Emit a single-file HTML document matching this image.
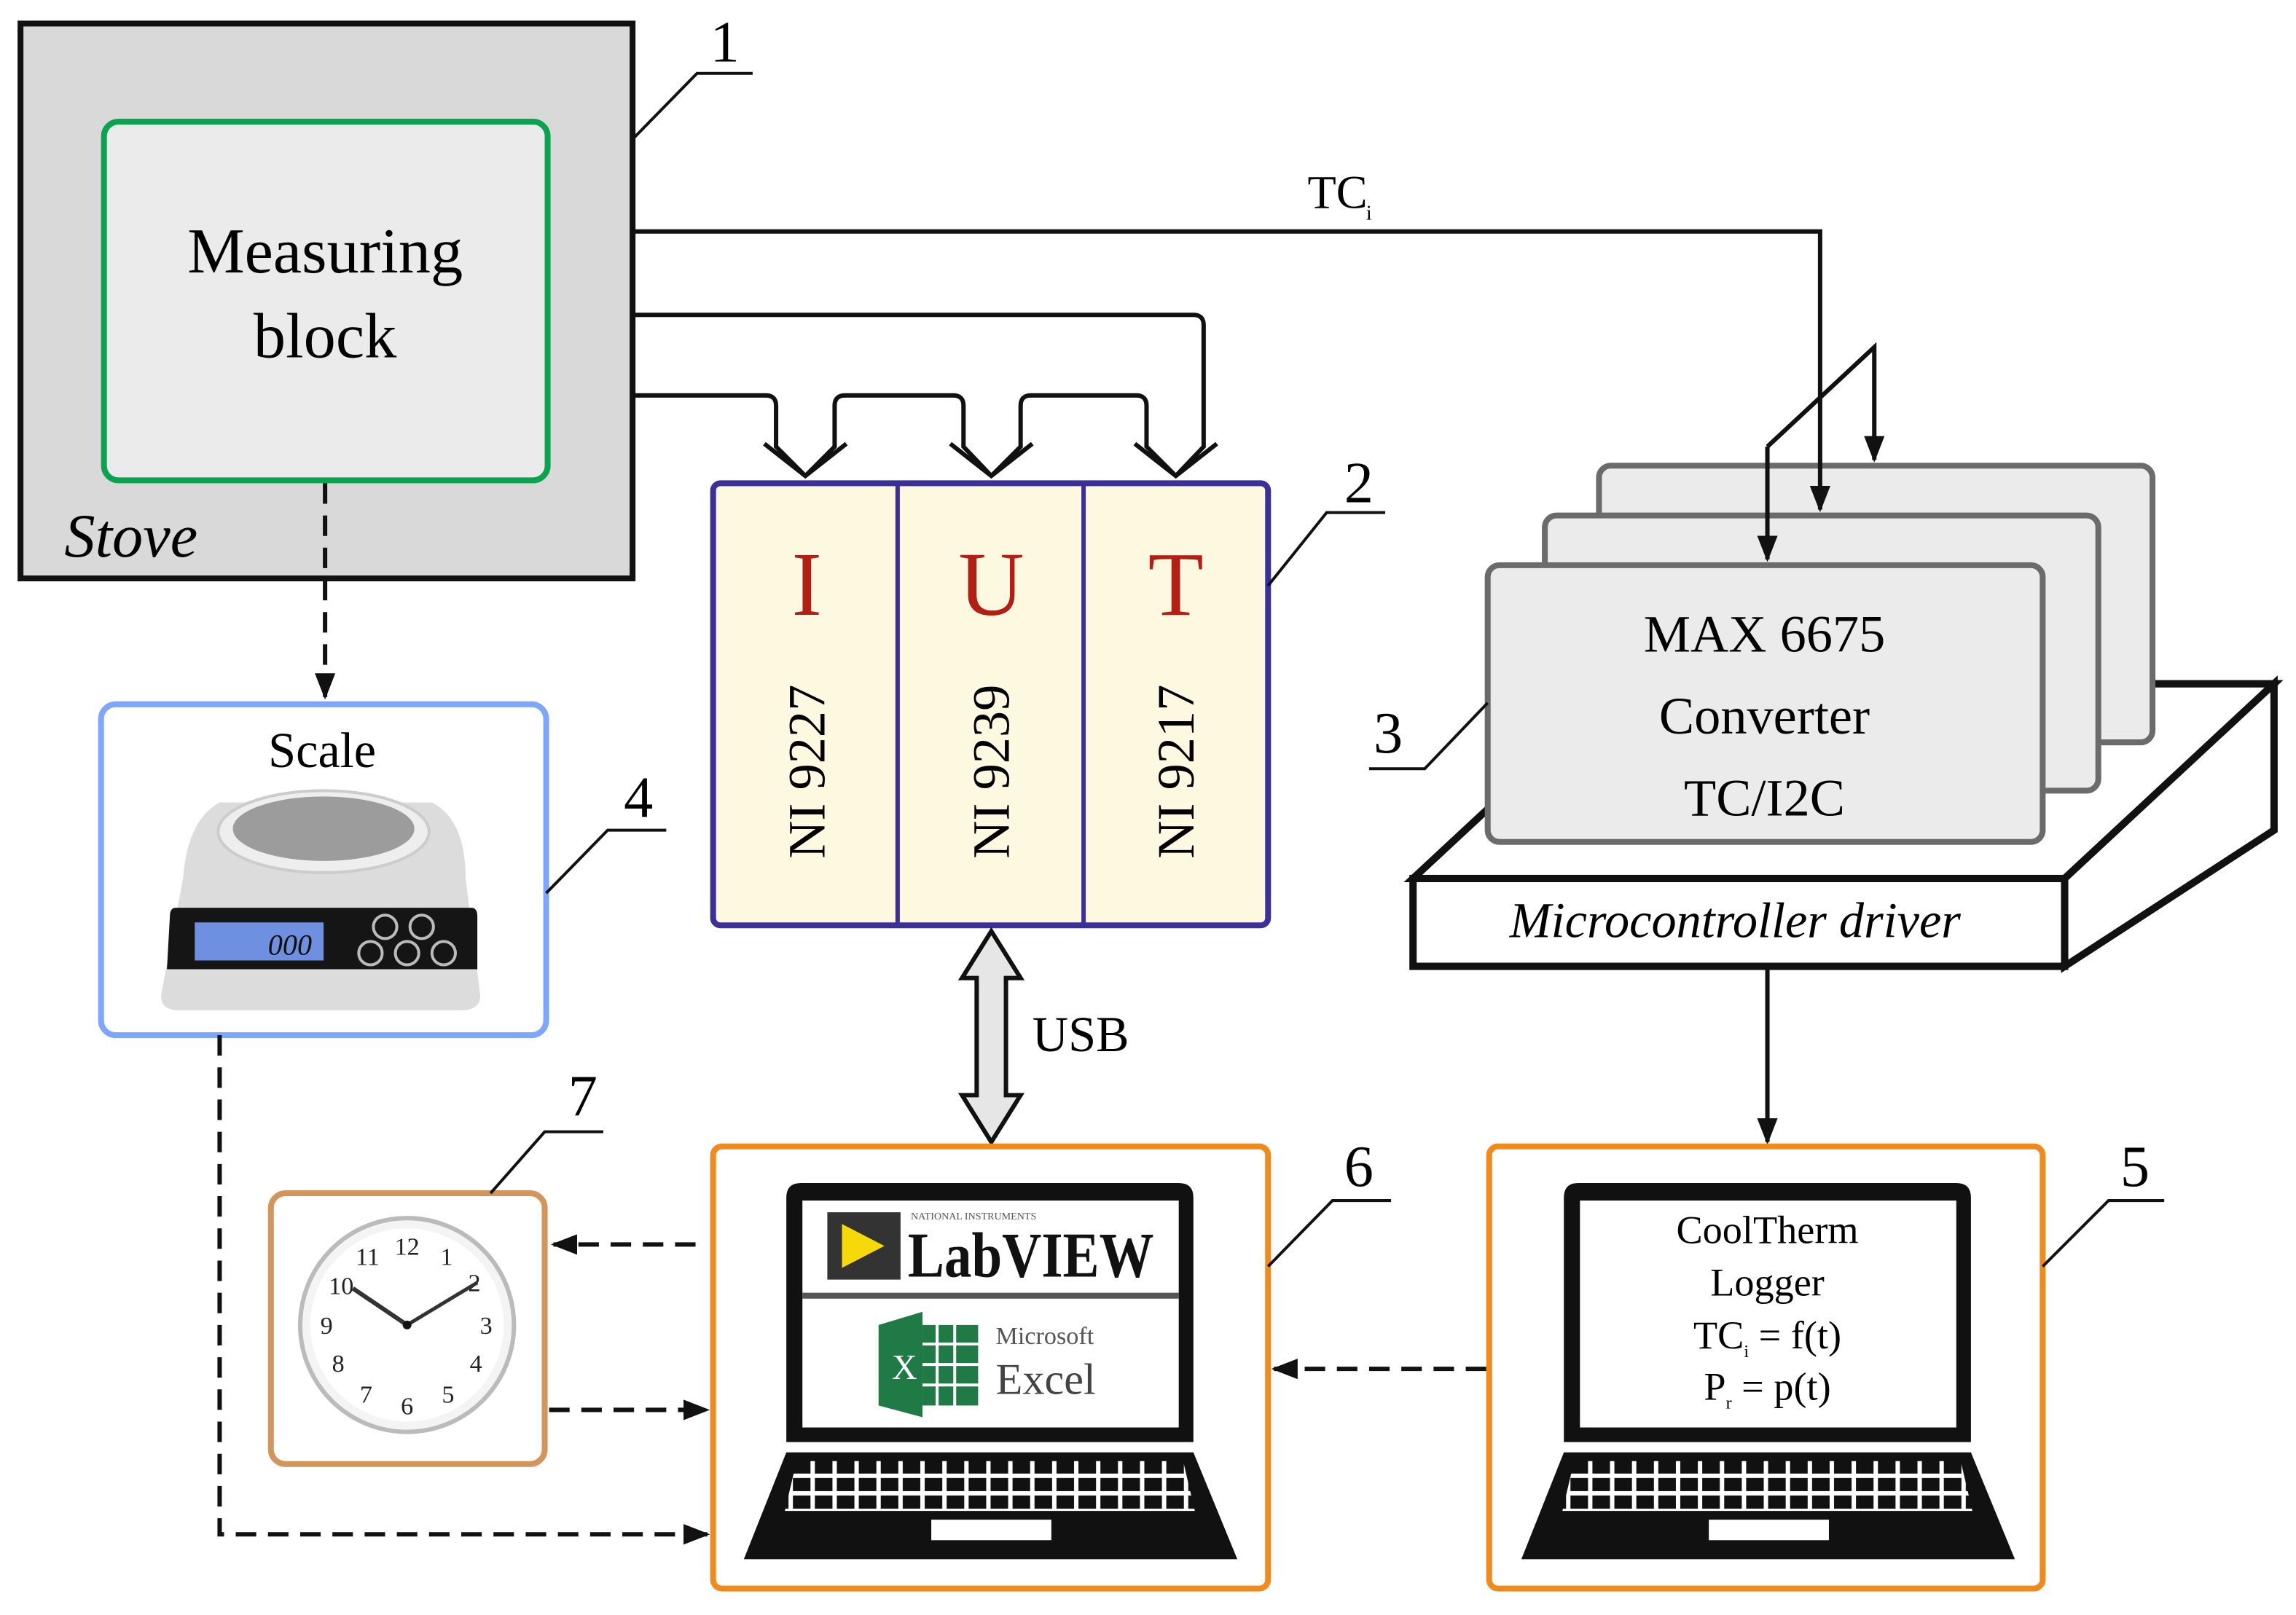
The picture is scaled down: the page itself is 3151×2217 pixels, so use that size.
<!DOCTYPE html>
<html><head><meta charset="utf-8"><style>
html,body{margin:0;padding:0;background:#fff}
svg{display:block}
text{font-family:"Liberation Serif",serif}
</style></head><body>
<svg width="3151" height="2217" viewBox="0 0 1568 1103" xmlns="http://www.w3.org/2000/svg">
<defs>
<marker id="ah" viewBox="0 0 10 10" refX="9" refY="5" markerWidth="18" markerHeight="14" orient="auto-start-reverse" markerUnits="userSpaceOnUse" preserveAspectRatio="none">
<path d="M0,0 L10,5 L0,10 z" fill="#111"/></marker>
<pattern id="keys" x="0" y="0" width="15" height="12" patternUnits="userSpaceOnUse">
<rect width="15" height="12" fill="#fff"/><rect x="1.5" y="1.5" width="12" height="9" fill="#111"/></pattern>
<g id="laptop">
<path d="M537,985 V818 Q537,808 547,808 H805 Q815,808 815,818 V985 Z" fill="#111"/>
<rect x="548" y="820" width="257" height="155" fill="#fff"/>
<path d="M537,992 H815 L845,1065 H508 Z" fill="#111"/>
<path d="M544,998 H808 L816,1032 H536 Z" fill="url(#keys)"/>
<rect x="636" y="1038" width="82" height="14" fill="#fff"/>
</g>
</defs>

<!-- Stove -->
<rect x="14" y="16" width="418" height="379" fill="#d8d9d8" stroke="#111" stroke-width="4"/>
<rect x="71" y="83" width="303" height="245" rx="10" fill="#ebebeb" stroke="#0aa350" stroke-width="4"/>
<text x="222" y="186" font-size="44" text-anchor="middle">Measuring</text>
<text x="222" y="244" font-size="44" text-anchor="middle">block</text>
<text x="44" y="380" font-size="42" font-style="italic">Stove</text>
<polyline points="432,95 476,50 514,50" fill="none" stroke="#111" stroke-width="2"/>
<text x="485" y="42" font-size="40">1</text>

<!-- Platform -->
<polygon points="965,600 1108,467 1553,467 1410,600" fill="#fff" stroke="#111" stroke-width="5" stroke-linejoin="miter"/>
<polygon points="1410,600 1553,467 1553,567 1410,660" fill="#fff" stroke="#111" stroke-width="5"/>
<rect x="965" y="600" width="445" height="60" fill="#fff" stroke="#111" stroke-width="5"/>
<text x="1185" y="640" font-size="34" font-style="italic" text-anchor="middle">Microcontroller driver</text>

<!-- MAX boxes -->
<g fill="#ebebeb" stroke="#6b6b6b" stroke-width="4">
<rect x="1092" y="318" width="378" height="189" rx="8"/>
<rect x="1055" y="352" width="378" height="188" rx="8"/>
<rect x="1016" y="386" width="379" height="189" rx="8"/></g>
<g font-size="36" text-anchor="middle">
<text x="1205" y="445">MAX 6675</text><text x="1205" y="501">Converter</text><text x="1205" y="557">TC/I2C</text></g>

<!-- lines to NI -->
<g fill="none" stroke="#111" stroke-width="3">
<path d="M432,158 H1243 V348" marker-end="url(#ah)"/>
<path d="M432,270 H523 Q530,270 530,277 V305 L550,325"/>
<path d="M550,325 L570,305 V277 Q570,270 577,270 H651 Q658,270 658,277 V305 L677,325"/>
<path d="M677,325 L697,305 V277 Q697,270 704,270 H776 Q783,270 783,277 V305 L803,325"/>
<path d="M432,215 H815 Q822,215 822,222 V305 L803,325"/>
<path d="M522,303 L550,325 L578,303 M649,303 L677,325 L705,303 M775,303 L803,325 L831,303"/>
<path d="M1207,305 L1280,237 V314" marker-end="url(#ah)"/>
<path d="M1207,305 V382" marker-end="url(#ah)"/>
<path d="M1207,660 V780" marker-end="url(#ah)"/>
</g>
<text x="893" y="142" font-size="32">TC</text><text x="933" y="150" font-size="14">i</text>
<polyline points="935,525 973,525 1016,480" fill="none" stroke="#111" stroke-width="2"/>
<text x="938" y="514" font-size="40">3</text>

<!-- NI box -->
<rect x="487" y="330" width="379" height="302" rx="5" fill="#fdf8e0" stroke="#3b2f9a" stroke-width="4"/>
<line x1="613" y1="330" x2="613" y2="632" stroke="#3b2f9a" stroke-width="3"/>
<line x1="740" y1="330" x2="740" y2="632" stroke="#3b2f9a" stroke-width="3"/>
<g fill="#b22015" font-size="62" text-anchor="middle">
<text x="551" y="420">I</text><text x="677" y="420">U</text><text x="803" y="420">T</text></g>
<g font-size="36" text-anchor="middle">
<text transform="translate(563,527) rotate(-90)">NI 9227</text>
<text transform="translate(689,527) rotate(-90)">NI 9239</text>
<text transform="translate(815,527) rotate(-90)">NI 9217</text></g>
<polyline points="866,400 906,350 946,350" fill="none" stroke="#111" stroke-width="2"/>
<text x="918" y="343" font-size="40">2</text>

<!-- USB -->
<path d="M677,636 L697,668 H687 V748 H697 L677,780 L657,748 H667 V668 H657 Z" fill="#e6e6e6" stroke="#111" stroke-width="3"/>
<text x="705" y="718" font-size="34">USB</text>

<!-- Scale -->
<path d="M222,330 V476" fill="none" stroke="#111" stroke-width="3" stroke-dasharray="14,8" marker-end="url(#ah)"/>
<rect x="69" y="481" width="304" height="226" rx="10" fill="#fff" stroke="#7fa6ff" stroke-width="4"/>
<text x="220" y="524" font-size="34" text-anchor="middle">Scale</text>
<path d="M125,600 Q128,560 150,548 H295 Q318,560 318,600 L328,680 Q328,690 315,690 H122 Q110,690 110,680 Z" fill="#dcdcdc"/>
<ellipse cx="221" cy="568" rx="72" ry="28" fill="#eee" stroke="#ccc" stroke-width="2"/>
<ellipse cx="221" cy="566" rx="62" ry="22" fill="#9c9c9c"/>
<path d="M120,620 H322 Q326,620 326,626 L326,662 H114 L116,626 Q116,620 120,620 Z" fill="#151515"/>
<rect x="133" y="630" width="88" height="26" fill="#6f8fe0"/>
<text x="198" y="652" font-size="20" font-style="italic" text-anchor="middle" fill="#111">000</text>
<g fill="none" stroke="#bbb" stroke-width="2">
<circle cx="263" cy="633" r="8"/><circle cx="288" cy="633" r="8"/>
<circle cx="253" cy="651" r="8"/><circle cx="278" cy="651" r="8"/><circle cx="303" cy="651" r="8"/></g>
<polyline points="373,610 415,567 455,567" fill="none" stroke="#111" stroke-width="2"/>
<text x="426" y="558" font-size="40">4</text>

<!-- Clock -->
<rect x="185" y="815" width="187" height="185" rx="10" fill="#fff" stroke="#d4955a" stroke-width="4"/>
<circle cx="278" cy="905" r="73" fill="#f4f4f4" stroke="#bbb" stroke-width="3"/>
<circle cx="278" cy="905" r="66" fill="#fff"/>
<g font-size="17" text-anchor="middle" font-family="Liberation Sans,sans-serif" fill="#222">
<text x="278" y="857">12</text><text x="305" y="864">1</text><text x="324" y="882">2</text>
<text x="332" y="911">3</text><text x="325" y="937">4</text><text x="306" y="958">5</text>
<text x="278" y="966">6</text><text x="250" y="958">7</text><text x="231" y="937">8</text>
<text x="223" y="911">9</text><text x="233" y="884">10</text><text x="251" y="864">11</text></g>
<line x1="278" y1="905" x2="241" y2="880" stroke="#333" stroke-width="3"/>
<line x1="278" y1="905" x2="326" y2="876" stroke="#333" stroke-width="2.5"/>
<circle cx="278" cy="905" r="3" fill="#111"/>
<polyline points="335,815 372,773 412,773" fill="none" stroke="#111" stroke-width="2"/>
<text x="388" y="762" font-size="40">7</text>

<!-- dashed connectors -->
<g fill="none" stroke="#111" stroke-width="3" stroke-dasharray="14,8">
<path d="M475,850 H378" marker-end="url(#ah)"/>
<path d="M375,963 H483" marker-end="url(#ah)"/>
<path d="M150,707 V1048 H483" marker-end="url(#ah)"/>
<path d="M1015,935 H870" marker-end="url(#ah)"/>
</g>

<!-- Laptop 6 -->
<rect x="487" y="783" width="379" height="302" rx="6" fill="#fff" stroke="#f08a1c" stroke-width="4"/>
<use href="#laptop"/>
<line x1="548" y1="885" x2="805" y2="885" stroke="#555" stroke-width="4"/>
<rect x="565" y="828" width="50" height="46" fill="#333"/>
<polygon points="575,836 604,851 575,866" fill="#f5d90a"/>
<text x="622" y="833" font-size="7" font-family="Liberation Sans,sans-serif" fill="#555">NATIONAL INSTRUMENTS</text>
<text x="620" y="872" font-size="44" font-weight="bold" font-family="Liberation Sans,sans-serif" fill="#111" textLength="168" lengthAdjust="spacingAndGlyphs">LabVIEW</text>
<polygon points="600,905 630,896 630,968 600,960" fill="#1f7a45"/>
<rect x="630" y="905" width="38" height="55" fill="#1f7a45"/>
<g stroke="#fff" stroke-width="2"><line x1="640" y1="905" x2="640" y2="960"/><line x1="652" y1="905" x2="652" y2="960"/>
<line x1="630" y1="918" x2="668" y2="918"/><line x1="630" y1="932" x2="668" y2="932"/><line x1="630" y1="946" x2="668" y2="946"/></g>
<text x="609" y="942" font-size="24" fill="#fff" font-family="Liberation Sans,sans-serif">X</text>
<text x="680" y="918" font-size="17" fill="#555" font-family="Liberation Sans,sans-serif">Microsoft</text>
<text x="680" y="952" font-size="30" fill="#444" font-family="Liberation Sans,sans-serif">Excel</text>
<polyline points="866,865 910,820 950,820" fill="none" stroke="#111" stroke-width="2"/>
<text x="918" y="810" font-size="40">6</text>

<!-- Laptop 5 -->
<rect x="1017" y="783" width="378" height="302" rx="6" fill="#fff" stroke="#f08a1c" stroke-width="4"/>
<use href="#laptop" transform="translate(531,0)"/>
<g font-size="27" text-anchor="middle">
<text x="1207" y="849">CoolTherm</text><text x="1207" y="885">Logger</text>
<text x="1207" y="921">TC<tspan font-size="12" dy="6">i</tspan><tspan dy="-6"> = f(t)</tspan></text>
<text x="1207" y="956">P<tspan font-size="12" dy="6">r</tspan><tspan dy="-6"> = p(t)</tspan></text></g>
<polyline points="1395,865 1440,820 1478,820" fill="none" stroke="#111" stroke-width="2"/>
<text x="1448" y="810" font-size="40">5</text>
</svg>
</body></html>
